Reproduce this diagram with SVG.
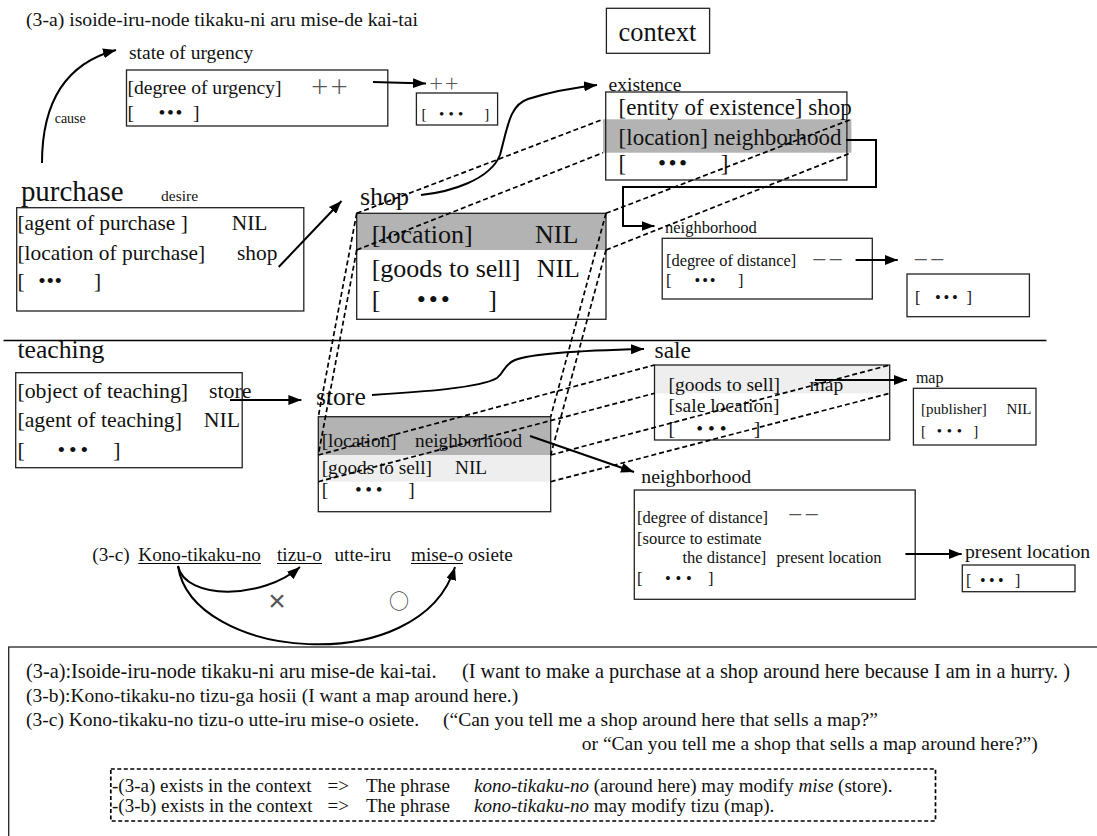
<svg xmlns="http://www.w3.org/2000/svg" width="1097" height="836" viewBox="0 0 1097 836">
<defs>
<style>
text{font-family:"Liberation Serif","Times New Roman","Noto Sans CJK JP",serif;fill:#111}
.g{font-family:"Noto Sans CJK JP",sans-serif;fill:#555}
.box{fill:none;stroke:#222;stroke-width:1.3}
.dsh{fill:none;stroke:#000;stroke-width:1.7;stroke-dasharray:5 3}
.arr{fill:none;stroke:#000;stroke-width:2;marker-end:url(#ah)}
.band{fill:#b3b3b3}
.lband{fill:#eeeeee}
.it{font-style:italic}
</style>
<marker id="ah" markerUnits="userSpaceOnUse" markerWidth="14" markerHeight="10" refX="13" refY="5" orient="auto"><path d="M0,0 L13,5 L0,10 z" fill="#000"/></marker>
</defs>
<rect width="1097" height="836" fill="#fff"/>

<g id="title"><text x="26" y="26" font-size="19.7">(3-a) isoide-iru-node tikaku-ni aru mise-de kai-tai</text></g>

<g id="context"><rect class="box" x="606.4" y="8.3" width="103.2" height="45"/><text x="618.6" y="41" font-size="26.4">context</text></g>

<g id="state-of-urgency">
<text x="129" y="59" font-size="19.5">state of urgency</text>
<rect class="box" x="126.5" y="70" width="261.3" height="56"/>
<text x="127.5" y="94" font-size="19.6">[degree of urgency]</text>
<text class="g" x="310" y="94" font-size="19.4">＋＋</text>
<text y="118.5" font-size="19.6"><tspan x="127.5">[</tspan><tspan x="158.5" letter-spacing="1.6">•••</tspan><tspan x="193">]</tspan></text>
</g>

<g id="urgency-value">
<text class="g" x="428.6" y="89" font-size="15.3">＋＋</text>
<rect class="box" x="416.4" y="93" width="81.2" height="32"/>
<text y="119" font-size="15"><tspan x="421.6">[</tspan><tspan x="439" letter-spacing="4.3">•••</tspan><tspan x="484.3">]</tspan></text>
</g>

<g id="existence">
<text x="608.5" y="91" font-size="19.6">existence</text>
<rect class="band" x="603" y="119.3" width="248.4" height="33.4"/>
<rect class="box" x="605.7" y="92" width="241.2" height="88"/>
<text x="618.6" y="114.7" font-size="23">[entity of existence] shop</text>
<text x="618.6" y="145" font-size="23">[location] neighborhood</text>
<text y="171.4" font-size="23"><tspan x="618.6">[</tspan><tspan x="658" letter-spacing="2.5">•••</tspan><tspan x="720.7">]</tspan></text>
</g>

<g id="neighborhood-1">
<text x="665" y="233" font-size="16.5">neighborhood</text>
<rect class="box" x="662.2" y="238.3" width="210.1" height="60.7"/>
<text x="666" y="265.7" font-size="16.4">[degree of distance]</text>
<text class="g" x="811" y="266" font-size="16.5">－－</text>
<text y="285.7" font-size="16.4"><tspan x="666">[</tspan><tspan x="694.6" letter-spacing="1.8">•••</tspan><tspan x="738">]</tspan></text>
</g>

<g id="distance-value">
<text class="g" x="912.4" y="266" font-size="16.5">－－</text>
<rect class="box" x="907" y="274" width="122.4" height="42.7"/>
<text y="302.5" font-size="16.5"><tspan x="915">[</tspan><tspan x="935" letter-spacing="2.7">•••</tspan><tspan x="966.4">]</tspan></text>
</g>

<g id="purchase">
<text x="20.9" y="200.5" font-size="28.9">purchase</text>
<text x="161" y="200.5" font-size="15.5">desire</text>
<rect class="box" x="16.7" y="207.7" width="287.1" height="103.3"/>
<text x="17.4" y="230" font-size="21.4">[agent of purchase ]</text>
<text x="231.7" y="230" font-size="21.4">NIL</text>
<text x="17.4" y="260" font-size="21.4">[location of purchase]</text>
<text x="237" y="260" font-size="21.4">shop</text>
<text y="288.4" font-size="21.4"><tspan x="17.4">[</tspan><tspan x="38.3" letter-spacing="0.6">•••</tspan><tspan x="94">]</tspan></text>
</g>

<g id="shop">
<text x="360" y="205" font-size="26">shop</text>
<rect class="band" x="356.7" y="213.3" width="249.3" height="36.7"/>
<rect class="box" x="356.7" y="213.3" width="249.3" height="106"/>
<text x="371.7" y="243" font-size="26">[location]</text>
<text x="535" y="243" font-size="26">NIL</text>
<text x="371.7" y="277" font-size="26">[goods to sell]</text>
<text x="536.7" y="277" font-size="26">NIL</text>
<text y="307.5" font-size="26"><tspan x="371.7">[</tspan><tspan x="416.7" letter-spacing="2.9">•••</tspan><tspan x="488.3">]</tspan></text>
</g>

<g id="separator"><line x1="3.5" y1="340.5" x2="1046.5" y2="340.5" stroke="#000" stroke-width="1.3"/></g>

<g id="teaching">
<text x="17.4" y="358.3" font-size="25.7">teaching</text>
<rect class="box" x="15.7" y="372.7" width="226.5" height="95"/>
<text x="17.4" y="398" font-size="21.8">[object of teaching]</text>
<text x="209" y="398" font-size="21.8">store</text>
<text x="17.4" y="427" font-size="21.8">[agent of teaching]</text>
<text x="203.8" y="427" font-size="21.8">NIL</text>
<text y="456.5" font-size="21.8"><tspan x="17.4">[</tspan><tspan x="57.5" letter-spacing="3.9">•••</tspan><tspan x="113.2">]</tspan></text>
</g>

<g id="store">
<text x="316" y="405" font-size="25.6">store</text>
<rect class="band" x="318.3" y="416.7" width="232.4" height="38.3"/>
<rect class="lband" x="318.3" y="455" width="232.4" height="26.7"/>
<rect class="box" x="318.3" y="416.7" width="232.4" height="95"/>
<text x="321.7" y="447" font-size="19.3">[location]</text>
<text x="415" y="447" font-size="19.3">neighborhood</text>
<text x="321.7" y="473.7" font-size="19.3">[goods to sell]</text>
<text x="455" y="473.7" font-size="19.3">NIL</text>
<text y="495.5" font-size="19.3"><tspan x="321.7">[</tspan><tspan x="355" letter-spacing="3.6">•••</tspan><tspan x="408.3">]</tspan></text>
</g>

<g id="sale">
<text x="654.5" y="358.3" font-size="23.5">sale</text>
<rect class="lband" x="654.5" y="365" width="235.2" height="28.3"/>
<rect class="box" x="654.5" y="365" width="235.2" height="75"/>
<text x="668.5" y="391" font-size="19.5">[goods to sell]</text>
<text x="809.6" y="391" font-size="19.5">map</text>
<text x="668.5" y="412" font-size="19.5">[sale location]</text>
<text y="435" font-size="19.5"><tspan x="668.5">[</tspan><tspan x="696.3" letter-spacing="4.9">•••</tspan><tspan x="753.8">]</tspan></text>
</g>

<g id="map">
<text x="915.9" y="383.3" font-size="16">map</text>
<rect class="box" x="913.4" y="388.3" width="122.6" height="56.7"/>
<text x="921" y="414" font-size="15">[publisher]</text>
<text x="1006.4" y="414" font-size="15">NIL</text>
<text y="436" font-size="15"><tspan x="921">[</tspan><tspan x="936.8" letter-spacing="4.7">•••</tspan><tspan x="973.3">]</tspan></text>
</g>

<g id="neighborhood-2">
<text x="641.3" y="483.3" font-size="19.8">neighborhood</text>
<rect class="box" x="634.3" y="490" width="280.9" height="109.3"/>
<text x="637" y="522.5" font-size="16.5">[degree of distance]</text>
<text class="g" x="787" y="521" font-size="16.5">－－</text>
<text x="637" y="544" font-size="16.5">[source to estimate</text>
<text x="682.4" y="562.5" font-size="16.5">the distance]</text>
<text x="776.5" y="562.5" font-size="16.5">present location</text>
<text y="584" font-size="16.5"><tspan x="637">[</tspan><tspan x="665" letter-spacing="4.7">•••</tspan><tspan x="708">]</tspan></text>
</g>

<g id="present-location">
<text x="965" y="558.3" font-size="19.7">present location</text>
<rect class="box" x="962.3" y="565" width="112.7" height="26.7"/>
<text y="585.5" font-size="16"><tspan x="966">[</tspan><tspan x="980" letter-spacing="3.4">•••</tspan><tspan x="1015">]</tspan></text>
</g>

<g id="example-3c">
<text x="92.3" y="561" font-size="19.2">(3-c)</text>
<text x="138.3" y="561" font-size="19.2">Kono-tikaku-no</text>
<text x="277" y="561" font-size="19.2">tizu-o</text>
<text x="334.5" y="561" font-size="19.2">utte-iru</text>
<text x="411" y="561" font-size="19.2">mise-o osiete</text>
<path d="M138.3,563.5H261M277,563.5H322M411,563.5H463" stroke="#000" stroke-width="1.1" fill="none"/>
<text x="277" y="611" font-size="30" text-anchor="middle" style="font-family:'Liberation Sans',sans-serif;fill:#555">×</text>
<text x="399" y="609" font-size="20" text-anchor="middle" class="g" style="fill:#444">○</text>
</g>

<g id="explanation">
<rect class="box" x="8.7" y="647" width="1100" height="200"/>
<text x="26" y="678" font-size="20.3">(3-a):Isoide-iru-node tikaku-ni aru mise-de kai-tai.</text>
<text x="462" y="678" font-size="20.3">(I want to make a purchase at a shop around here because I am in a hurry. )</text>
<text x="26" y="702" font-size="19.5">(3-b):Kono-tikaku-no tizu-ga hosii (I want a map around here.)</text>
<text x="26" y="726" font-size="19.5">(3-c) Kono-tikaku-no tizu-o utte-iru mise-o osiete.</text>
<text x="443" y="726" font-size="19.5">(“Can you tell me a shop around here that sells a map?”</text>
<text x="581.8" y="750" font-size="19.5">or  “Can you tell me a shop that sells a map around here?”)</text>
</g>

<g id="note">
<rect x="110.8" y="769" width="824.7" height="52" fill="none" stroke="#000" stroke-width="1.7" stroke-dasharray="4 2.5"/>
<text x="112" y="792" font-size="19">-(3-a) exists in the context<tspan x="327.5">=&gt;</tspan><tspan x="366">The phrase</tspan><tspan x="474" class="it">kono-tikaku-no</tspan> (around here) may modify <tspan class="it">mise</tspan> (store).</text>
<text x="112" y="812" font-size="19">-(3-b) exists in the context<tspan x="327.5">=&gt;</tspan><tspan x="366">The phrase</tspan><tspan x="474" class="it">kono-tikaku-no</tspan> may modify tizu (map).</text>
</g>

<g id="connectors">
<path class="arr" d="M42,163 C42,110 60,65 116,50" stroke-width="2.4"/>
<text x="54.7" y="123" font-size="14">cause</text>
<path class="arr" d="M373,82 L426,83.5"/>
<path class="arr" d="M278.7,267 L341.5,201"/>
<path class="arr" d="M421,195 C450,192 490,180 500,155 C508,125 510,105 528,99 C550,92 570,88 597,85"/>
<path class="arr" d="M846,140 H876 V187 H623 V226 H654.5"/>
<path class="arr" d="M855.6,260 L897.7,260"/>
<path class="arr" d="M230,400 L301.4,400"/>
<path class="arr" d="M372,395 C420,392 480,388 497,378 C505,372 503,365 515,360 C535,352 600,350 644,349"/>
<path class="arr" d="M530,436 L634,472"/>
<path class="arr" d="M815,380 L907,380"/>
<path class="arr" d="M905.4,554 L961.7,554"/>
<path class="arr" d="M178,566 C185,600 262,600 300,567"/>
<path class="arr" d="M178,566 C192,660 420,680 455,567"/>
<path class="dsh" d="M356.7,213.3 L603,119.3 M356.7,250 L603,152.7 M606,213.3 L851.4,119.3 M606,250 L851.4,152.7"/>
<path class="dsh" d="M356.7,213.3 L318.3,416.7 M356.7,250 L318.3,455 M606,213.3 L550.7,416.7 M606,250 L550.7,455"/>
<path class="dsh" d="M318.3,455 L654.5,365 M318.3,481.7 L654.5,393.3 M550.7,455 L889.7,365 M550.7,481.7 L889.7,393.3"/>
</g>
</svg>
